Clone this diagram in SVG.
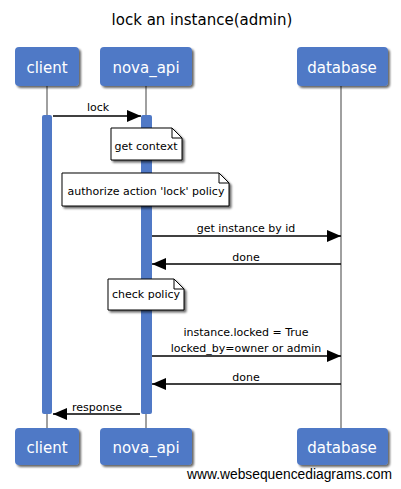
<svg xmlns="http://www.w3.org/2000/svg" width="401" height="489" viewBox="0 0 401 489">
<defs>
<filter id="sh" x="-20%" y="-20%" width="140%" height="150%">
<feGaussianBlur in="SourceAlpha" stdDeviation="1.2"/>
<feOffset dx="2" dy="2" result="b"/>
<feComponentTransfer><feFuncA type="linear" slope="0.6"/></feComponentTransfer>
<feMerge><feMergeNode/><feMergeNode in="SourceGraphic"/></feMerge>
</filter>
<marker id="ah" markerWidth="14" markerHeight="12" refX="14" refY="6" orient="auto" markerUnits="userSpaceOnUse">
<path d="M0,0 L14,6 L0,12 Z" fill="#000"/>
</marker>
</defs>
<style>
.title{font-family:"DejaVu Sans",sans-serif;font-size:15px;fill:#000;text-anchor:middle}
.pbox{fill:#5079c6;filter:url(#sh)}
.ptxt{font-family:"DejaVu Sans",sans-serif;font-size:15px;fill:#fff;text-anchor:middle}
.life{stroke:#a0a0a0;stroke-width:2}
.act{fill:#5079c6}
.msg{stroke:#000;stroke-width:1.6;fill:none;marker-end:url(#ah)}
.lbl{font-family:"DejaVu Sans",sans-serif;font-size:11px;fill:#000;text-anchor:middle}
.note{fill:#fff;stroke:#000;stroke-width:1;filter:url(#sh)}
.fold{fill:none;stroke:#000;stroke-width:1}
.wm{font-family:"Liberation Sans",Arial,sans-serif;font-size:14px;fill:#000}
</style>
<rect width="401" height="489" fill="#fff"/>
<text class="title" x="202" y="25">lock an instance(admin)</text>
<g id="lifelines">
<line class="life" x1="47" y1="86" x2="47" y2="428"/>
<line class="life" x1="146" y1="86" x2="146" y2="428"/>
<line class="life" x1="341" y1="86" x2="341" y2="428"/>
</g>
<g id="activations">
<rect class="act" x="42" y="115" width="10" height="299" rx="2"/>
<rect class="act" x="141" y="115" width="11" height="299" rx="2"/>
</g>
<g id="client">
<rect class="pbox" x="15" y="47" width="64" height="39" rx="4"/>
<text class="ptxt" x="47" y="73">client</text>
<rect class="pbox" x="15" y="428" width="64" height="37" rx="4"/>
<text class="ptxt" x="47" y="453">client</text>
</g>
<g id="nova_api">
<rect class="pbox" x="100" y="47" width="92" height="39" rx="4"/>
<text class="ptxt" x="146" y="73">nova_api</text>
<rect class="pbox" x="100" y="428" width="92" height="37" rx="4"/>
<text class="ptxt" x="146" y="453">nova_api</text>
</g>
<g id="database">
<rect class="pbox" x="297" y="47" width="91" height="39" rx="4"/>
<text class="ptxt" x="342" y="73">database</text>
<rect class="pbox" x="297" y="428" width="91" height="37" rx="4"/>
<text class="ptxt" x="342" y="453">database</text>
</g>
<g id="note_get_context">
<path class="note" d="M111,128 H172 L182,138 V160 H111 Z"/>
<path class="fold" d="M172,128 V138 H182"/>
<text class="lbl" x="146" y="150">get context</text>
</g>
<g id="note_authorize">
<path class="note" d="M62,173 H219 L229,183 V206 H62 Z"/>
<path class="fold" d="M219,173 V183 H229"/>
<text class="lbl" x="146" y="195">authorize action 'lock' policy</text>
</g>
<g id="note_check_policy">
<path class="note" d="M108,279 H174 L184,289 V310 H108 Z"/>
<path class="fold" d="M174,279 V289 H184"/>
<text class="lbl" x="146" y="298">check policy</text>
</g>
<g id="connectors">
<line class="msg" x1="53" y1="116" x2="141" y2="116"/>
<text class="lbl" x="98" y="111">lock</text>
<line class="msg" x1="152" y1="236" x2="341" y2="236"/>
<text class="lbl" x="246" y="232">get instance by id</text>
<line class="msg" x1="341" y1="264" x2="152" y2="264"/>
<text class="lbl" x="246" y="261">done</text>
<line class="msg" x1="152" y1="356" x2="341" y2="356"/>
<text class="lbl" x="246" y="336">instance.locked = True</text>
<text class="lbl" x="246" y="352">locked_by=owner or admin</text>
<line class="msg" x1="341" y1="384" x2="152" y2="384"/>
<text class="lbl" x="246" y="381">done</text>
<line class="msg" x1="140" y1="414" x2="53" y2="414"/>
<text class="lbl" x="97" y="411">response</text>
</g>
<text class="wm" x="187" y="479" textLength="205" lengthAdjust="spacingAndGlyphs">www.websequencediagrams.com</text>
</svg>
